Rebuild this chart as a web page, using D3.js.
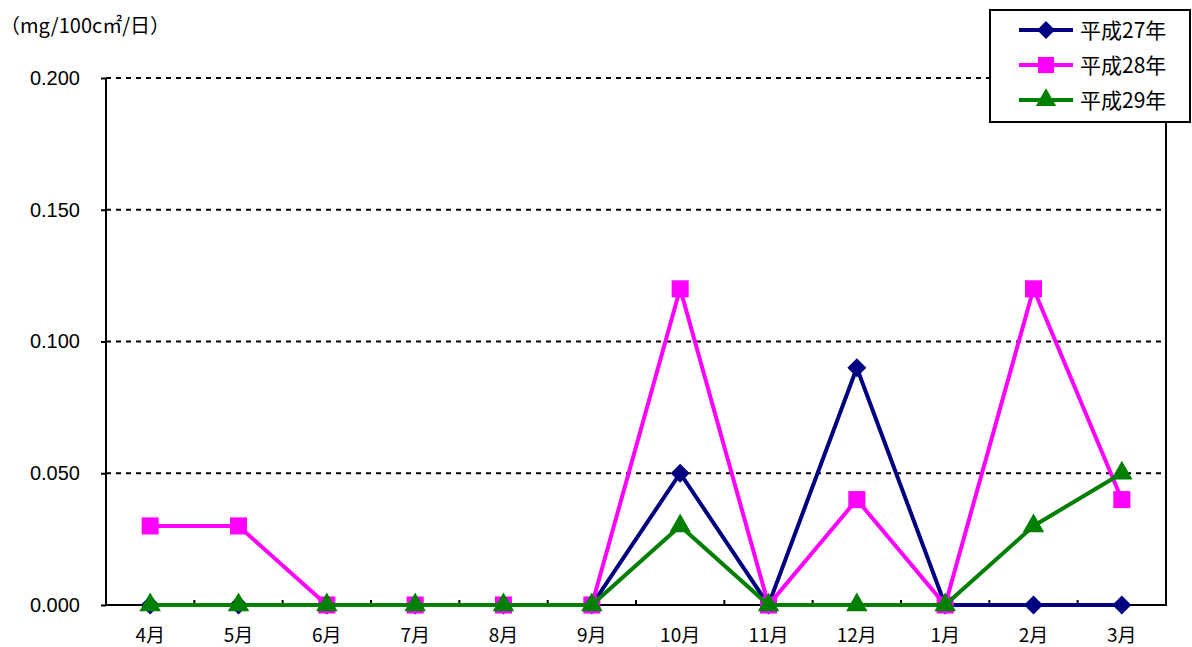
<!DOCTYPE html>
<html><head><meta charset="utf-8">
<script src="https://cdn.jsdelivr.net/npm/d3@7"></script>
<style>body{margin:0;background:#fff;} svg{display:block;font-family:"Noto Sans CJK JP","Noto Sans",sans-serif;}</style>
</head><body><svg id="c" width="1192" height="647"></svg>
<script>
const categories = ["4月","5月","6月","7月","8月","9月","10月","11月","12月","1月","2月","3月"];
const seriesNames = ["平成27年","平成28年","平成29年"];
const h27 = [0,0,0,0,0,0,0.05,0,0.09,0,0,0];
const h28 = [0.03,0.03,0,0,0,0,0.12,0,0.04,0,0.12,0.04];
const h29 = [0,0,0,0,0,0,0.03,0,0,0,0.03,0.05];
const yTicks = [0,0.05,0.1,0.15,0.2];
const unitLabel = "（mg/100c㎡/日）";

const colors = ["#000080","#FF00FF","#008000"];
const symbols = [d3.symbolDiamond2, d3.symbolSquare2, d3.symbolTriangle2];
const symSizes = [230, 370, 330];
const series = [h27,h28,h29];

const svg = d3.select("#c");
const L=106,R=1166,T=78,B=605;
const x = d3.scaleBand().domain(categories).range([L,R]);
const y = d3.scaleLinear().domain([0,0.2]).range([B,T]);

// gridlines
svg.append("g").selectAll("line").data(yTicks.filter(d=>d>0)).join("line")
  .attr("x1",L).attr("x2",R).attr("y1",d=>y(d)).attr("y2",d=>y(d))
  .attr("stroke","#000").attr("stroke-width",2).attr("stroke-dasharray","5,5");
// frame
svg.append("path").attr("d",`M${L},${T}V${B}H${R}V${T}`).attr("fill","none").attr("stroke","#000").attr("stroke-width",2);

// y axis
const ya = svg.append("g").attr("transform",`translate(${L},0)`)
  .call(d3.axisLeft(y).tickValues(yTicks).tickFormat(d3.format(".3f")).tickSize(5).tickPadding(21));
ya.select(".domain").remove();
ya.selectAll("line").attr("stroke","#000").attr("stroke-width",2);
ya.selectAll("text").attr("font-size",20).attr("fill","#000").attr("font-family","Liberation Sans, Arial, sans-serif");

// x ticks at band boundaries (pointing up)
svg.append("g").selectAll("line").data(categories.slice(1)).join("line")
  .attr("x1",d=>x(d)).attr("x2",d=>x(d)).attr("y1",B).attr("y2",B-5)
  .attr("stroke","#000").attr("stroke-width",2);
svg.append("g").selectAll("text").data(categories).join("text")
  .attr("x",d=>x(d)+x.bandwidth()/2).attr("y",642).attr("text-anchor","middle")
  .attr("font-size",19).attr("fill","#000").text(d=>d);

// unit label
svg.append("text").attr("x",0).attr("y",33).attr("font-size",20).attr("fill","#000").text(unitLabel);

// series
const line = d3.line().x((d,i)=>x(categories[i])+x.bandwidth()/2).y(d=>y(d));
series.forEach((s,k)=>{
  const g = svg.append("g");
  g.append("path").datum(s).attr("d",line).attr("fill","none").attr("stroke",colors[k]).attr("stroke-width",4).attr("stroke-linejoin","miter");
  g.selectAll("path.m").data(s).join("path").attr("class","m")
    .attr("transform",(d,i)=>`translate(${x(categories[i])+x.bandwidth()/2},${y(d)})`)
    .attr("d",d3.symbol(symbols[k],symSizes[k])).attr("fill",colors[k]);
});

// legend
const lg = svg.append("g");
lg.append("rect").attr("x",990).attr("y",10).attr("width",200).attr("height",112).attr("fill","#fff").attr("stroke","#000").attr("stroke-width",2);
seriesNames.forEach((n,k)=>{
  const yy = 30+k*35;
  lg.append("line").attr("x1",1019).attr("x2",1073).attr("y1",yy).attr("y2",yy).attr("stroke",colors[k]).attr("stroke-width",4);
  lg.append("path").attr("transform",`translate(1046,${yy})`).attr("d",d3.symbol(symbols[k],symSizes[k]*0.9)).attr("fill",colors[k]);
  lg.append("text").attr("x",1080).attr("y",yy+8).attr("font-size",21).attr("fill","#000").text(n);
});
</script></body></html>
